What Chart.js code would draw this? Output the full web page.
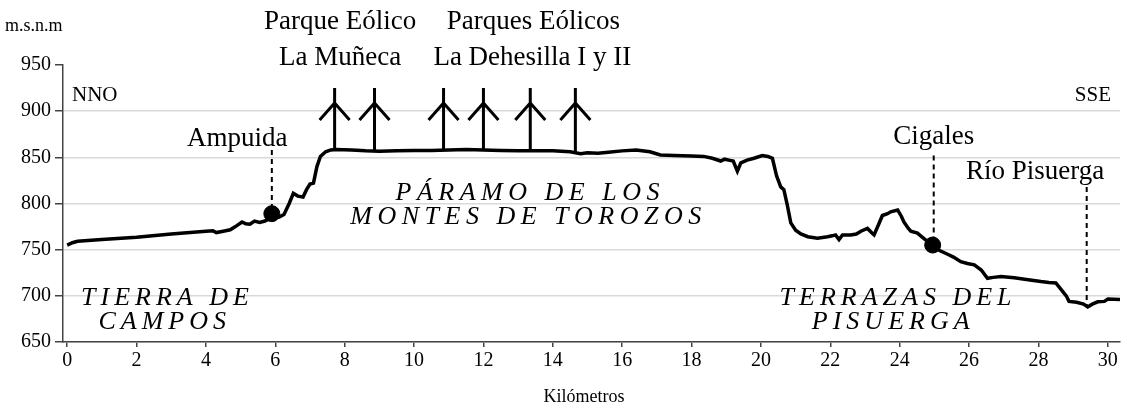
<!DOCTYPE html>
<html>
<head>
<meta charset="utf-8">
<script src="https://cdn.jsdelivr.net/npm/chart.js@4/dist/chart.umd.min.js"></script>
<style>
  body { margin: 0; background: #fff; }
  canvas { display: block; }
</style>
</head>
<body>
<canvas id="perfil" width="1121" height="405"></canvas>
<script>
// Perfil topográfico NNO - SSE (km, m.s.n.m)
const profileKm = [
  0, 0.15, 0.3, 1, 2, 3, 4, 4.2, 4.3, 4.5, 4.7, 4.85, 5.04, 5.15, 5.27, 5.4, 5.55, 5.7, 5.9,
  6.1, 6.25, 6.4, 6.52, 6.65, 6.8, 6.9, 7.0, 7.1, 7.2, 7.3, 7.45, 7.6, 7.75, 8.2, 8.6, 9.0,
  9.5, 10, 10.5, 11, 11.5, 12, 12.5, 13, 13.5, 14, 14.5, 14.8, 15, 15.3, 15.6, 16, 16.4,
  16.8, 17.1, 17.5, 18, 18.35, 18.6, 18.84, 18.95, 19.07, 19.2, 19.32, 19.42, 19.6, 19.8,
  20.04, 20.2, 20.33, 20.45, 20.57, 20.66, 20.75, 20.86, 21.0, 21.15, 21.35, 21.63, 21.92,
  22.05, 22.15, 22.25, 22.35, 22.59, 22.75, 22.88, 23.07, 23.2, 23.26, 23.4, 23.5, 23.65,
  23.74, 23.94, 24.05, 24.12, 24.25, 24.32, 24.51, 24.7, 24.95, 25.15, 25.38, 25.55, 25.76,
  25.95, 26.15, 26.35, 26.53, 26.7, 26.92, 27.3, 27.7, 28.07, 28.3, 28.5, 28.65, 28.8, 28.88,
  29.1, 29.3, 29.42, 29.55, 29.71, 29.9, 30.0, 30.35
];
const profileElev = [
  755, 757.5, 759, 761, 763.5, 767, 770, 770.5, 768.5, 770, 771.5, 775, 780, 778, 777.5, 781, 779.5, 781, 785,
  785, 788, 800, 811, 808, 807, 815, 821, 822, 840, 851, 856, 858, 858.5, 858, 857, 856.5,
  857, 857.5, 857.5, 858, 858.5, 858, 857.5, 857, 857, 857, 856, 854, 855, 854.5, 855.5, 857, 858,
  856, 852.5, 852, 851.5, 851, 849, 846, 848, 847, 846, 835, 844, 847, 849,
  852, 851, 849, 830, 818, 815, 800, 779, 771, 767, 764, 762.5, 764,
  765, 766, 761, 766, 766, 767, 770, 773, 768, 766, 778, 787, 789,
  791, 793, 786, 780, 773, 770, 768, 762, 755, 749, 745, 742, 737,
  735, 733.5, 728, 719, 720, 721, 719.5, 717.5, 715.5, 714.5, 714, 707, 700, 694,
  693, 691, 688, 691, 693.5, 694, 696.5, 696
];

// Localidades marcadas con punto
const placeNames = ['Ampuida', 'Cigales'];
const placeKm = [5.9, 24.95];
const placeElev = [789, 755];

// Aerogeneradores
const turbineKm = [7.71, 8.86, 10.85, 12.0, 13.35, 14.65];
const turbineTop = 925;

const yTicks = [650, 700, 750, 800, 850, 900, 950];
const xTicks = [0, 2, 4, 6, 8, 10, 12, 14, 16, 18, 20, 22, 24, 26, 28, 30];

const SERIF = "'Liberation Serif', 'Times New Roman', serif";

function elevAt(km) {
  for (let i = 1; i < profileKm.length; i++) {
    if (km <= profileKm[i]) {
      const t = (km - profileKm[i - 1]) / (profileKm[i] - profileKm[i - 1]);
      return profileElev[i - 1] + t * (profileElev[i] - profileElev[i - 1]);
    }
  }
  return profileElev[profileElev.length - 1];
}

// texto en cursiva con espaciado entre letras, centrado en cx
function spacedText(ctx, text, cx, y, gap) {
  const chars = Array.from(text);
  let total = 0;
  chars.forEach(c => total += ctx.measureText(c).width + gap);
  total -= gap;
  let x = cx - total / 2;
  ctx.textAlign = 'left';
  chars.forEach(c => {
    ctx.fillText(c, x, y);
    x += ctx.measureText(c).width + gap;
  });
}

const annotations = {
  id: 'annotations',
  afterDatasetsDraw(chart) {
    const ctx = chart.ctx;
    const xs = chart.scales.x, ys = chart.scales.y;
    const px = v => xs.getPixelForValue(v);
    const py = v => ys.getPixelForValue(v);
    ctx.save();
    ctx.fillStyle = '#000';
    ctx.strokeStyle = '#000';

    // aerogeneradores
    ctx.lineWidth = 3;
    ctx.lineCap = 'butt';
    turbineKm.forEach(km => {
      const x = px(km), top = py(turbineTop), base = py(elevAt(km));
      ctx.beginPath();
      ctx.moveTo(x, top);
      ctx.lineTo(x, base);
      ctx.moveTo(x - 15, top + 32);
      ctx.lineTo(x, top + 15);
      ctx.lineTo(x + 15, top + 32);
      ctx.stroke();
    });

    // líneas discontinuas
    ctx.lineWidth = 2;
    ctx.setLineDash([5, 4]);
    const leaders = [[5.9, 858, 789], [24.98, 852, 755], [29.39, 818, 689]];
    leaders.forEach(([km, a, b]) => {
      ctx.beginPath();
      ctx.moveTo(px(km), py(a));
      ctx.lineTo(px(km), py(b));
      ctx.stroke();
    });
    ctx.setLineDash([]);

    // rótulos
    ctx.textBaseline = 'middle';
    ctx.textAlign = 'center';
    ctx.font = '27px ' + SERIF;
    ctx.fillText('Parque Eólico', px(7.87), py(997));
    ctx.fillText('La Muñeca', px(7.87), py(958));
    ctx.fillText('Parques Eólicos', px(13.44), py(997));
    ctx.fillText('La Dehesilla I y II', px(13.41), py(958));
    ctx.fillText('Ampuida', px(4.9), py(870));
    ctx.fillText('Cigales', px(24.98), py(872));
    ctx.fillText('Río Pisuerga', px(27.9), py(834));

    ctx.font = '21px ' + SERIF;
    ctx.textAlign = 'left';
    ctx.fillText('NNO', px(0.14), py(917));
    ctx.textAlign = 'right';
    ctx.fillText('SSE', px(30.09), py(917));

    ctx.font = 'italic 26px ' + SERIF;
    spacedText(ctx, 'PÁRAMO DE LOS', px(13.27), py(811.6), 5.5);
    spacedText(ctx, 'MONTES DE TOROZOS', px(13.22), py(785.6), 5.5);
    spacedText(ctx, 'TIERRA DE', px(2.82), py(697.7), 5);
    spacedText(ctx, 'CAMPOS', px(2.74), py(671.7), 5);
    spacedText(ctx, 'TERRAZAS DEL', px(23.88), py(697.7), 5);
    spacedText(ctx, 'PISUERGA', px(23.74), py(671.7), 5);

    // títulos de ejes
    ctx.font = '18px ' + SERIF;
    ctx.textAlign = 'left';
    ctx.fillText('m.s.n.m', 5, 26);
    ctx.textAlign = 'center';
    ctx.fillText('Kilómetros', 584, 397);
    ctx.restore();
  }
};

const ctx = document.getElementById('perfil').getContext('2d');
new Chart(ctx, {
  type: 'scatter',
  data: {
    datasets: [{
      label: 'Perfil',
      data: profileKm.map((km, i) => ({ x: km, y: profileElev[i] })),
      showLine: true,
      borderColor: '#000',
      borderWidth: 3.5,
      pointRadius: 0,
      tension: 0
    }, {
      label: 'Localidades',
      data: placeKm.map((km, i) => ({ x: km, y: placeElev[i], name: placeNames[i] })),
      showLine: false,
      pointRadius: 8,
      pointBackgroundColor: '#000',
      pointBorderColor: '#000'
    }]
  },
  options: {
    responsive: false,
    animation: false,
    layout: { autoPadding: false, padding: { top: 65, right: 1, left: 0, bottom: 0 } },
    plugins: {
      legend: { display: false },
      tooltip: { enabled: false }
    },
    scales: {
      x: {
        type: 'linear',
        min: -0.12,
        max: 30.35,
        afterBuildTicks: scale => { scale.ticks = xTicks.map(v => ({ value: v })); },
        afterFit: scale => { scale.height = 63; },
        grid: { drawOnChartArea: false, tickLength: 5, tickColor: '#444', lineWidth: 1.5 },
        border: { color: '#444', width: 1.5 },
        ticks: { font: { family: SERIF, size: 20 }, color: '#000', padding: 2, maxRotation: 0 }
      },
      y: {
        min: 650,
        max: 950,
        afterBuildTicks: scale => { scale.ticks = yTicks.map(v => ({ value: v })); },
        afterFit: scale => { scale.width = 63; },
        grid: {
          color: c => (c.tick && c.tick.value === 950) ? 'rgba(0,0,0,0)' : '#d9d9d9',
          lineWidth: 1.5,
          tickLength: 8,
          tickColor: '#444'
        },
        border: { color: '#444', width: 1.5 },
        ticks: { font: { family: SERIF, size: 20 }, color: '#000', padding: 4 }
      }
    }
  },
  plugins: [annotations]
});
</script>
</body>
</html>
